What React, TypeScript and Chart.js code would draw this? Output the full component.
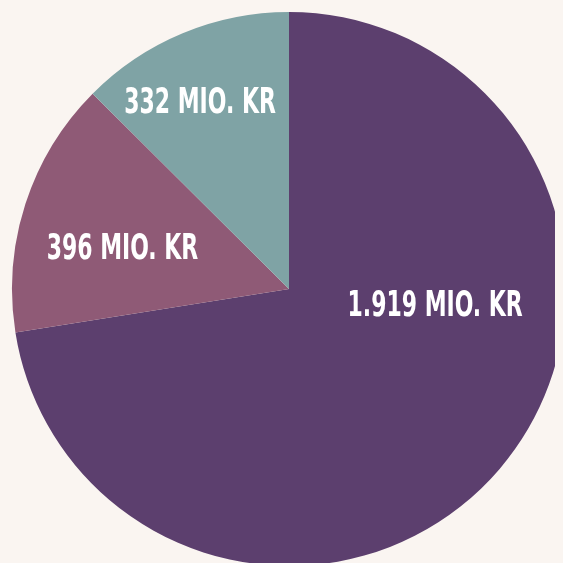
import React, { useEffect, useRef } from "react";
import { Chart, registerables } from "chart.js";

Chart.register(...registerables);

const categories = ["A", "B", "C"];
const values = [1919, 396, 332];
const labelTexts = ["1.919 MIO. KR", "396 MIO. KR", "332 MIO. KR"];
const colors = ["#5c3f6e", "#8f5a76", "#7fa3a5"];

// label placement: angle (deg, screen coords from +x) and radius fraction
const labelAngles = [5.5, 194.5, 244.8];
const labelRadii = [0.53, 0.621, 0.754];

const labelPlugin = {
  id: "sliceLabels",
  afterDatasetsDraw(chart: any) {
    const ctx = chart.ctx;
    const meta = chart.getDatasetMeta(0);
    const sx = 0.61;
    const size = 36;
    const cap = size * 0.729;
    meta.data.forEach((arc: any, i: number) => {
      const r = arc.outerRadius * labelRadii[i];
      const a = (labelAngles[i] * Math.PI) / 180;
      const x = arc.x + r * Math.cos(a);
      const y = arc.y + r * Math.sin(a);
      ctx.save();
      ctx.fillStyle = "#ffffff";
      ctx.font = `bold ${size}px 'DejaVu Sans', sans-serif`;
      ctx.textAlign = "center";
      ctx.textBaseline = "alphabetic";
      ctx.translate(x, y + cap / 2);
      ctx.scale(sx, 1);
      ctx.fillText(labelTexts[i], 0, 0);
      ctx.restore();
    });
  },
};

export default function App() {
  const ref = useRef<HTMLCanvasElement>(null);
  useEffect(() => {
    document.body.style.background = "#faf5f1";
    document.body.style.overflow = "hidden";
    document.documentElement.style.overflow = "hidden";
    document.documentElement.style.background = "#faf5f1";
    const chart = new Chart(ref.current!, {
      type: "pie",
      data: {
        labels: categories,
        datasets: [
          {
            data: values,
            backgroundColor: colors,
            borderWidth: 0,
          },
        ],
      },
      options: {
        animation: false,
        responsive: false,
        layout: { padding: 4 },
        plugins: {
          legend: { display: false },
          tooltip: { enabled: false },
        },
      },
      plugins: [labelPlugin],
    });
    return () => chart.destroy();
  }, []);
  return (
    <div style={{ width: 562, height: 562 }}>
      <canvas ref={ref} width={562} height={562} style={{ display: "block" }} />
    </div>
  );
}
